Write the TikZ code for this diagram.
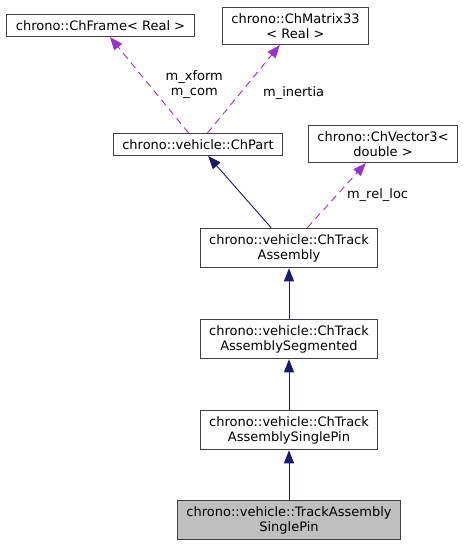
\documentclass[tikz,border=0pt]{standalone}
\usepackage{fontspec}
\setmainfont{DejaVu Sans}
\usepackage{tikz}
\usetikzlibrary{arrows.meta,positioning}
\definecolor{navyedge}{HTML}{191970}
\definecolor{orchidedge}{HTML}{9A32CD}
\definecolor{boxline}{HTML}{404040}
\definecolor{boxfill}{HTML}{BFBFBF}

\begin{document}
\begin{tikzpicture}[x=1pt,y=-1pt,
cls/.style={draw=boxline,line width=1pt,fill=white,align=center,inner xsep=9pt,inner ysep=6pt,font=\fontsize{13}{15}\selectfont},
inherit/.style={navyedge,line width=0.9pt,-{Triangle[length=13pt,width=10pt]}},
member/.style={orchidedge,line width=0.9pt,dash pattern=on 7pt off 5pt,-{Triangle[length=13pt,width=10pt]}},
lbl/.style={font=\fontsize{13}{15}\selectfont,align=center,text=black}]
\useasboundingbox (0,0) rectangle (464,547);
\node[cls] (frame) at (100.5,25.5) {chrono::ChFrame< Real >};
\node[cls] (mat) at (295.5,26) {chrono::ChMatrix33\\< Real >};
\node[cls] (part) at (198,144.5) {chrono::vehicle::ChPart};
\node[cls] (vec) at (383,144) {chrono::ChVector3<\\double >};
\node[cls] (ta) at (289,248) {chrono::vehicle::ChTrack\\Assembly};
\node[cls] (tas) at (289,339) {chrono::vehicle::ChTrack\\AssemblySegmented};
\node[cls] (tasp) at (289,430) {chrono::vehicle::ChTrack\\AssemblySinglePin};
\node[cls,fill=boxfill] (final) at (289,520) {chrono::vehicle::TrackAssembly\\SinglePin};
\path
(part) edge[member] node[lbl,midway,xshift=45pt]{m\_xform\\m\_com} (frame)
(part) edge[member] node[lbl,midway,xshift=50pt,yshift=-4pt]{m\_inertia} (mat)
(ta) edge[inherit] (part)
(ta) edge[member] node[lbl,midway,xshift=41pt]{m\_rel\_loc} (vec)
(tas) edge[inherit] (ta)
(tasp) edge[inherit] (tas)
(final) edge[inherit] (tasp);
\end{tikzpicture}
\end{document}
